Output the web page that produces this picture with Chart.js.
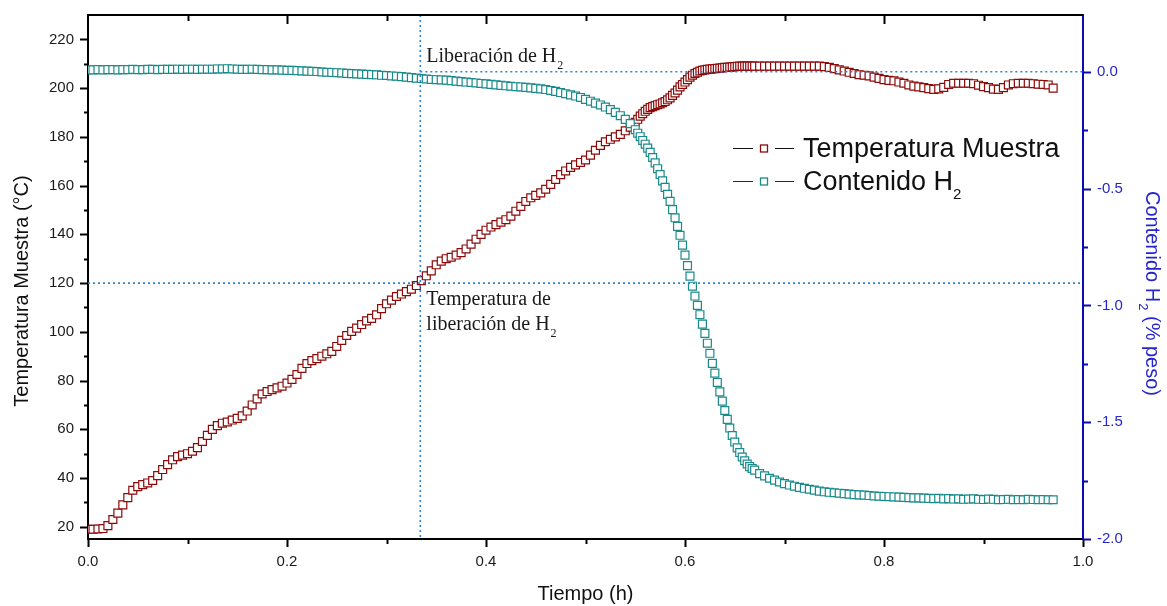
<!DOCTYPE html>
<html>
<head>
<meta charset="utf-8">
<script src="https://cdn.jsdelivr.net/npm/chart.js@4.4.1/dist/chart.umd.min.js"></script>
<style>
  html, body { margin: 0; padding: 0; background: #fff; }
  #wrap { width: 1167px; height: 606px; }
</style>
</head>
<body>
<div id="wrap"><canvas id="chart" width="1167" height="606"></canvas></div>
<script>
// sample times (h)
const timeH = [
  0, 0.005, 0.01, 0.015, 0.02, 0.025, 0.03, 0.035, 0.04, 0.045,
  0.05, 0.055, 0.06, 0.065, 0.07, 0.075, 0.08, 0.085, 0.09, 0.095,
  0.1, 0.105, 0.11, 0.115, 0.12, 0.125, 0.13, 0.135, 0.14, 0.145,
  0.15, 0.155, 0.16, 0.165, 0.17, 0.175, 0.18, 0.185, 0.19, 0.195,
  0.2, 0.205, 0.21, 0.215, 0.22, 0.225, 0.23, 0.235, 0.24, 0.245,
  0.25, 0.255, 0.26, 0.265, 0.27, 0.275, 0.28, 0.285, 0.29, 0.295,
  0.3, 0.305, 0.31, 0.315, 0.32, 0.325, 0.33, 0.335, 0.34, 0.345,
  0.35, 0.355, 0.36, 0.365, 0.37, 0.375, 0.38, 0.385, 0.39, 0.395,
  0.4, 0.405, 0.41, 0.415, 0.42, 0.425, 0.43, 0.435, 0.44, 0.445,
  0.45, 0.455, 0.46, 0.465, 0.47, 0.475, 0.48, 0.485, 0.49, 0.495,
  0.5, 0.505, 0.51, 0.515, 0.52, 0.525, 0.53, 0.535, 0.54, 0.545,
  0.55, 0.5525, 0.555, 0.5575, 0.56, 0.5625, 0.565, 0.5675, 0.57, 0.5725,
  0.575, 0.5775, 0.58, 0.5825, 0.585, 0.5875, 0.59, 0.5925, 0.595, 0.5975,
  0.6, 0.6025, 0.605, 0.6075, 0.61, 0.6125, 0.615, 0.6175, 0.62, 0.6225,
  0.625, 0.6275, 0.63, 0.6325, 0.635, 0.6375, 0.64, 0.6425, 0.645, 0.6475,
  0.65, 0.6525, 0.655, 0.6575, 0.66, 0.6625, 0.665, 0.6675, 0.67, 0.675,
  0.68, 0.685, 0.69, 0.695,
  0.7, 0.705, 0.71, 0.715, 0.72, 0.725, 0.73, 0.735, 0.74, 0.745,
  0.75, 0.755, 0.76, 0.765, 0.77, 0.775, 0.78, 0.785, 0.79, 0.795,
  0.8, 0.805, 0.81, 0.815, 0.82, 0.825, 0.83, 0.835, 0.84, 0.845,
  0.85, 0.855, 0.86, 0.865, 0.87, 0.875, 0.88, 0.885, 0.89, 0.895,
  0.9, 0.905, 0.91, 0.915, 0.92, 0.925, 0.93, 0.935, 0.94, 0.945,
  0.95, 0.955, 0.96, 0.965, 0.97
];

// Temperatura Muestra (°C)
const tempC = [
  19, 19, 19.1, 19.3, 20.5, 23, 25.6, 29, 32, 35,
  36.5, 37.3, 38, 39, 41, 43.5, 45.5, 47.5, 48.8, 49.4,
  50, 51, 52.5, 55, 57.5, 60, 61.5, 62.5, 63, 63.8,
  64.5, 65.5, 67.5, 70, 72.5, 74.5, 75.5, 76.3, 77, 77.7,
  79, 80.5, 82.5, 85, 87, 88.2, 89, 90, 91, 92,
  94, 96.5, 98.5, 100.2, 101.5, 103, 104.5, 105.5, 107, 109.5,
  111.5, 113, 114.5, 115.5, 116.5, 117.5, 119, 121, 123, 125,
  127.5, 129, 130, 130.6, 131.5, 132.5, 134, 136, 138, 140,
  141.7, 143, 144, 145, 146, 147.5, 149.5, 151.5, 153.5, 155,
  156, 157, 158.5, 160.5, 162.5, 164.5, 166, 167.5, 168.5, 169.5,
  170.5, 172.5, 174.5, 176.5, 178, 179, 180, 181, 182.5, 184,
  186, 187.2, 188.5, 189.5, 190.5, 191.3, 192, 192.4, 192.8, 193.2,
  193.5, 194, 194.5, 195.2, 196, 197, 198, 199.2, 200.5, 201.5,
  202.5, 203.5, 204.5, 205.3, 206, 206.5, 207, 207.3, 207.5, 207.7,
  207.8, 207.9, 208, 208.1, 208.2, 208.3, 208.5, 208.5, 208.6, 208.7,
  208.8, 208.9, 209, 209, 209, 209, 209, 209, 209, 209,
  209, 209, 209, 209,
  209, 209, 209, 209, 209, 209, 209, 209, 208.8, 208.5,
  208, 207.5, 207, 206.5, 206, 205.5, 205.3, 205, 204.5, 204,
  203.5, 203.2, 203, 202.5, 202, 201.3, 200.8, 200.5, 200.2, 199.8,
  199.5, 199.7, 200.3, 201.5, 202, 202, 202, 202, 201.8, 201.2,
  200.6, 200.2, 199.6, 199.5, 200.2, 201.3, 201.8, 202, 202, 202,
  201.8, 201.6, 201.5, 201.3, 200
];

// Contenido H2 (% peso)
const h2Pct = [
  0.008, 0.008, 0.009, 0.008, 0.009, 0.009, 0.008, 0.009, 0.009, 0.010,
  0.009, 0.009, 0.010, 0.010, 0.009, 0.010, 0.010, 0.010, 0.011, 0.010,
  0.011, 0.011, 0.010, 0.011, 0.011, 0.011, 0.012, 0.012, 0.013, 0.012,
  0.011, 0.010, 0.010, 0.011, 0.010, 0.009, 0.009, 0.008, 0.008, 0.007,
  0.006, 0.006, 0.005, 0.004, 0.003, 0.002, 0.001, -0.001, -0.002, -0.003,
  -0.004, -0.005, -0.007, -0.008, -0.009, -0.010, -0.011, -0.012, -0.013, -0.015,
  -0.016, -0.018, -0.019, -0.021, -0.023, -0.025, -0.027, -0.029, -0.031, -0.033,
  -0.034, -0.035, -0.036, -0.038, -0.040, -0.042, -0.044, -0.046, -0.048, -0.050,
  -0.052, -0.054, -0.056, -0.058, -0.060, -0.062, -0.064, -0.065, -0.067, -0.069,
  -0.071, -0.073, -0.076, -0.080, -0.084, -0.089, -0.094, -0.099, -0.104, -0.110,
  -0.118, -0.126, -0.134, -0.142, -0.151, -0.162, -0.174, -0.188, -0.204, -0.222,
  -0.248, -0.263, -0.278, -0.294, -0.310, -0.327, -0.345, -0.367, -0.390, -0.415,
  -0.440, -0.467, -0.495, -0.525, -0.555, -0.590, -0.625, -0.662, -0.700, -0.742,
  -0.785, -0.830, -0.875, -0.918, -0.960, -1.000, -1.040, -1.080, -1.120, -1.162,
  -1.205, -1.248, -1.290, -1.330, -1.370, -1.410, -1.450, -1.488, -1.525, -1.557,
  -1.585, -1.610, -1.630, -1.649, -1.665, -1.679, -1.690, -1.698, -1.705, -1.720,
  -1.730, -1.740, -1.748, -1.756,
  -1.763, -1.769, -1.774, -1.779, -1.783, -1.787, -1.791, -1.795, -1.798, -1.800,
  -1.802, -1.804, -1.806, -1.808, -1.810, -1.811, -1.812, -1.814, -1.816, -1.817,
  -1.818, -1.819, -1.820, -1.821, -1.822, -1.823, -1.824, -1.824, -1.825, -1.826,
  -1.827, -1.826, -1.828, -1.827, -1.829, -1.828, -1.830, -1.829, -1.828, -1.830,
  -1.831, -1.829, -1.830, -1.832, -1.831, -1.830, -1.832, -1.831, -1.832, -1.830,
  -1.831, -1.832, -1.831, -1.832, -1.832
];

// tick labels
const timeTicks = [0, 0.2, 0.4, 0.6, 0.8, 1.0];
const tempTicks = [20, 40, 60, 80, 100, 120, 140, 160, 180, 200, 220];
const h2Ticks = [-2.0, -1.5, -1.0, -0.5, 0.0];

// marked release point
const releaseTime = 0.334;
const releaseTemp = 120;
const releaseH2 = 0.0;

const RED = '#8b0a0a';
const TEAL = '#1a8a8a';
const BLUE_AXIS = '#0a0ab4';
const BLUE_TEXT = '#2626cc';
const DOT = '#2b86d6';
const SANS = '"Liberation Sans", Arial, sans-serif';
const SERIF = '"Liberation Serif", "Times New Roman", serif';

function toPoints(values) {
  return timeH.map((t, i) => ({ x: t, y: values[i] }));
}

// text with a subscript part, left aligned at x
function drawSub(ctx, parts, x, y, size, subSize, family, subGap) {
  let cx = x;
  parts.forEach(p => {
    ctx.font = (p.sub ? subSize : size) + 'px ' + family;
    if (p.sub) cx += subGap || 0;
    ctx.fillText(p.t, cx, p.sub ? y + size * 0.33 : y);
    cx += ctx.measureText(p.t).width;
  });
  return cx - x;
}

function partsWidth(ctx, parts, size, subSize, family) {
  let w = 0;
  parts.forEach(p => {
    ctx.font = (p.sub ? subSize : size) + 'px ' + family;
    w += ctx.measureText(p.t).width;
  });
  return w;
}

// fixed axis box, no label overhang padding
function fixBox(width) {
  return s => {
    s.width = width;
    s.paddingTop = 0;
    s.paddingBottom = 0;
  };
}

const decorPlugin = {
  id: 'decor',
  afterDraw(chart) {
    const ctx = chart.ctx;
    const a = chart.chartArea;
    const x = chart.scales.x, yT = chart.scales.yT, yH = chart.scales.yH;

    ctx.save();
    // reference lines
    ctx.strokeStyle = DOT;
    ctx.lineWidth = 1.6;
    ctx.setLineDash([2, 3]);
    const vx = x.getPixelForValue(releaseTime);
    const hy1 = yH.getPixelForValue(releaseH2);
    const hy2 = yT.getPixelForValue(releaseTemp);
    ctx.beginPath();
    ctx.moveTo(vx, a.top); ctx.lineTo(vx, a.bottom);
    ctx.moveTo(vx, hy1); ctx.lineTo(a.right, hy1);
    ctx.moveTo(a.left, hy2); ctx.lineTo(a.right, hy2);
    ctx.stroke();
    ctx.setLineDash([]);

    // top frame
    ctx.strokeStyle = '#000';
    ctx.lineWidth = 2;
    ctx.beginPath();
    ctx.moveTo(a.left - 1, a.top); ctx.lineTo(a.right, a.top);
    ctx.stroke();

    // x ticks (bottom outward, top inward)
    ctx.beginPath();
    for (let i = 0; i <= 10; i++) {
      const px = Math.round(x.getPixelForValue(i / 10)) + 0.5;
      const major = i % 2 === 0;
      ctx.moveTo(px, a.bottom); ctx.lineTo(px, a.bottom + (major ? 8 : 5));
      if (i > 0 && i < 10) { ctx.moveTo(px, a.top); ctx.lineTo(px, a.top + (major ? 9 : 6)); }
    }
    // left ticks
    for (let v = 20; v <= 220; v += 10) {
      const py = Math.round(yT.getPixelForValue(v)) + 0.5;
      const major = v % 20 === 0;
      ctx.moveTo(a.left, py); ctx.lineTo(a.left - (major ? 8 : 4), py);
    }
    ctx.stroke();

    // right ticks
    ctx.strokeStyle = BLUE_AXIS;
    ctx.beginPath();
    for (let k = 0; k <= 8; k++) {
      const v = -2 + k * 0.25;
      const py = Math.round(yH.getPixelForValue(v)) + 0.5;
      const major = k % 2 === 0;
      ctx.moveTo(a.right, py); ctx.lineTo(a.right + (major ? 8 : 5), py);
    }
    ctx.stroke();

    // axis titles
    ctx.fillStyle = '#111';
    ctx.textAlign = 'center';
    ctx.textBaseline = 'middle';
    ctx.font = '20px ' + SANS;
    ctx.fillText('Tiempo (h)', (a.left + a.right) / 2, 594);
    ctx.save();
    ctx.translate(22, 291);
    ctx.rotate(-Math.PI / 2);
    ctx.fillText('Temperatura Muestra (°C)', 0, 0);
    ctx.restore();

    ctx.save();
    ctx.translate(1153, 293);
    ctx.rotate(Math.PI / 2);
    ctx.fillStyle = BLUE_TEXT;
    ctx.textAlign = 'left';
    ctx.textBaseline = 'alphabetic';
    const rParts = [{ t: 'Contenido H' }, { t: '2', sub: true }, { t: ' (% peso)' }];
    const rw = partsWidth(ctx, rParts, 20, 13, SANS);
    drawSub(ctx, rParts, -rw / 2, 7, 20, 13, SANS, 1);
    ctx.restore();

    // annotations
    ctx.fillStyle = '#1a1a1a';
    ctx.textAlign = 'left';
    ctx.textBaseline = 'alphabetic';
    drawSub(ctx, [{ t: 'Liberación de H' }, { t: '2', sub: true }], vx + 6, 62, 20, 12, SERIF, 1);
    ctx.font = '20px ' + SERIF;
    ctx.fillText('Temperatura de', vx + 6, 305);
    drawSub(ctx, [{ t: 'liberación de H' }, { t: '2', sub: true }], vx + 6, 330, 20, 12, SERIF, 1);

    // legend
    const rows = [
      { y: 148, line: '#111', mark: RED, parts: [{ t: 'Temperatura Muestra' }] },
      { y: 181, line: '#1a1aa0', mark: TEAL, parts: [{ t: 'Contenido H' }, { t: '2', sub: true }] }
    ];
    rows.forEach(r => {
      ctx.strokeStyle = r.line;
      ctx.lineWidth = 1.2;
      ctx.beginPath();
      ctx.moveTo(733, r.y + 0.5); ctx.lineTo(753, r.y + 0.5);
      ctx.moveTo(775, r.y + 0.5); ctx.lineTo(794, r.y + 0.5);
      ctx.stroke();
      ctx.fillStyle = '#fff';
      ctx.strokeStyle = r.mark;
      ctx.lineWidth = 1.3;
      ctx.fillRect(760.5, r.y - 3, 7, 7);
      ctx.strokeRect(760.5, r.y - 3, 7, 7);
      ctx.fillStyle = '#111';
      drawSub(ctx, r.parts, 803, r.y + 9, 27, 15, SANS, 0);
    });
    ctx.restore();
  }
};

const ctx = document.getElementById('chart').getContext('2d');
new Chart(ctx, {
  type: 'scatter',
  data: {
    datasets: [
      {
        label: 'Temperatura Muestra',
        data: toPoints(tempC),
        yAxisID: 'yT',
        showLine: false,
        pointStyle: 'rect',
        pointRadius: 5.6,
        pointBorderWidth: 1.2,
        pointBorderColor: RED,
        pointBackgroundColor: '#fff',
        borderColor: RED,
        backgroundColor: '#fff',
        order: 1
      },
      {
        label: 'Contenido H2',
        data: toPoints(h2Pct),
        yAxisID: 'yH',
        showLine: false,
        pointStyle: 'rect',
        pointRadius: 5.6,
        pointBorderWidth: 1.2,
        pointBorderColor: TEAL,
        pointBackgroundColor: '#fff',
        borderColor: TEAL,
        backgroundColor: '#fff',
        order: 0
      }
    ]
  },
  options: {
    responsive: false,
    animation: false,
    devicePixelRatio: 1,
    events: [],
    layout: { padding: { top: 15, left: 0, right: 0, bottom: 0 } },
    plugins: { legend: { display: false }, tooltip: { enabled: false } },
    scales: {
      x: {
        type: 'linear', position: 'bottom', min: 0, max: 1,
        afterFit: s => { s.height = 67; },
        afterBuildTicks: s => { s.ticks = timeTicks.map(v => ({ value: v })); },
        grid: { display: false, drawTicks: false },
        border: { display: true, color: '#000', width: 2 },
        ticks: {
          padding: 14, color: '#1a1a1a', maxRotation: 0, autoSkip: false,
          font: { family: SANS, size: 15 },
          callback: v => v.toFixed(1)
        }
      },
      yT: {
        type: 'linear', position: 'left', min: 15, max: 230,
        afterFit: fixBox(88),
        afterBuildTicks: s => { s.ticks = tempTicks.map(v => ({ value: v })); },
        grid: { display: false, drawTicks: false },
        border: { display: true, color: '#000', width: 2 },
        ticks: {
          padding: 14, color: '#1a1a1a', autoSkip: false,
          font: { family: SANS, size: 15 }
        }
      },
      yH: {
        type: 'linear', position: 'right', min: -2.0, max: 0.243,
        afterFit: fixBox(84),
        afterBuildTicks: s => { s.ticks = h2Ticks.map(v => ({ value: v })); },
        grid: { display: false, drawTicks: false },
        border: { display: true, color: BLUE_AXIS, width: 2 },
        ticks: {
          padding: 14, color: BLUE_TEXT, autoSkip: false,
          font: { family: SANS, size: 15 },
          callback: v => v.toFixed(1)
        }
      }
    }
  },
  plugins: [decorPlugin]
});
</script>
</body>
</html>
